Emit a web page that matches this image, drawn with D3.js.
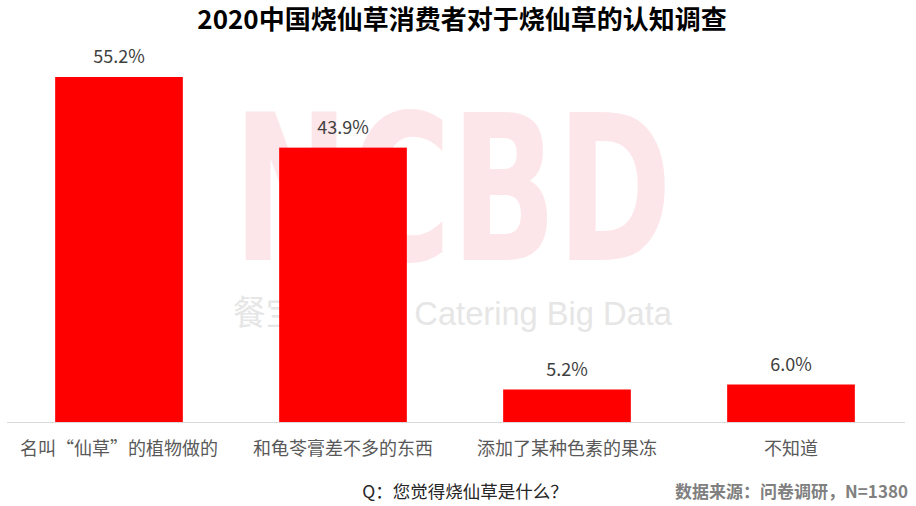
<!DOCTYPE html>
<html><head><meta charset="utf-8">
<script src="https://cdn.jsdelivr.net/npm/d3@7"></script>
<style>body{margin:0;background:#fff}svg{display:block}text{font-family:"Noto Sans CJK SC","Noto Sans",sans-serif}</style>
</head><body><svg id="c" width="916" height="506"></svg>
<script>
const title = "2020中国烧仙草消费者对于烧仙草的认知调查";
const categories = ["名叫“仙草”的植物做的","和龟苓膏差不多的东西","添加了某种色素的果冻","不知道"];
const values = [55.2, 43.9, 5.2, 6.0];
const question = "Q：您觉得烧仙草是什么？";
const source = "数据来源：问卷调研，N=1380";

const W = 916, H = 506;
const svg = d3.select("#c");
const x = d3.scaleBand().domain(categories).range([7, 903]).paddingInner(0.43).paddingOuter(0.215);
const y = d3.scaleLinear().domain([0, 60]).range([422, 47]);

// watermark
svg.append("text").attr("x", 233).attr("y", 260).attr("textLength", 439).attr("lengthAdjust", "spacingAndGlyphs")
  .style("font-family", "DejaVu Sans").style("font-weight", "bold").style("font-size", "203px")
  .attr("fill", "#fde6ea").text("NCBD");
svg.append("text").attr("x", 233).attr("y", 325).attr("textLength", 439).attr("lengthAdjust", "spacingAndGlyphs")
  .style("font-family", "Liberation Sans, Noto Sans CJK SC").style("font-size", "34px")
  .attr("fill", "#e6e6e6").text("餐宝典 New Catering Big Data");

// axis line
svg.append("line").attr("x1", 7).attr("x2", 905).attr("y1", 422.5).attr("y2", 422.5).attr("stroke", "#d9d9d9").attr("stroke-width", 1);

svg.selectAll("rect.bar").data(values).join("rect").attr("class", "bar")
  .attr("x", (d, i) => x(categories[i])).attr("width", x.bandwidth())
  .attr("y", d => y(d)).attr("height", d => y(0) - y(d)).attr("fill", "#ff0000");

svg.selectAll("text.val").data(values).join("text").attr("class", "val")
  .attr("x", (d, i) => x(categories[i]) + x.bandwidth() / 2).attr("y", d => y(d) - 14)
  .attr("text-anchor", "middle").style("font-size", "18px").attr("fill", "#404040")
  .text(d => d.toFixed(1) + "%");

const xAxis = svg.append("g").attr("transform", "translate(0,422)")
  .call(d3.axisBottom(x).tickSize(0).tickPadding(20));
xAxis.select(".domain").remove();
xAxis.selectAll("text").style("font-size", "18px").attr("fill", "#595959")
  .style("font-family", "Noto Sans CJK SC, sans-serif");

svg.append("text").attr("x", 462).attr("y", 29).attr("text-anchor", "middle")
  .style("font-size", "26px").style("font-weight", "bold").attr("fill", "#000").text(title);
svg.append("text").attr("x", 465).attr("y", 498).attr("text-anchor", "middle")
  .style("font-size", "17.5px").attr("fill", "#262626").text(question);
svg.append("text").attr("x", 908).attr("y", 498).attr("text-anchor", "end")
  .style("font-size", "17px").style("font-weight", "bold").attr("fill", "#808080").text(source);
</script></body></html>
